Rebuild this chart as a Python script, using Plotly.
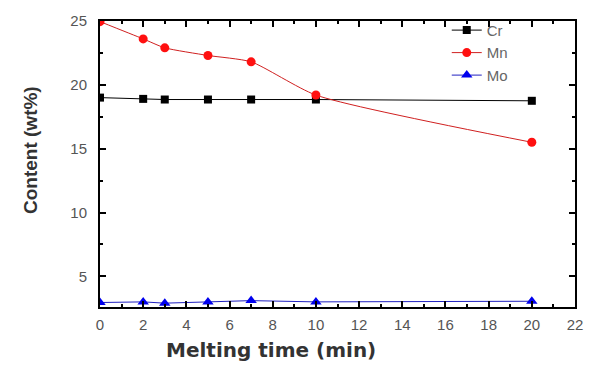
import plotly.graph_objects as go

time_min = [0, 2, 3, 5, 7, 10, 20]
cr = [19.0, 18.9, 18.85, 18.85, 18.85, 18.85, 18.75]
mn = [24.95, 23.6, 22.9, 22.3, 21.8, 19.2, 15.5]
mo = [2.95, 3.0, 2.9, 3.0, 3.1, 3.0, 3.05]

fig = go.Figure()
fig.add_trace(go.Scatter(x=time_min, y=cr, name="Cr", mode="lines+markers",
                         line=dict(color="black", width=1),
                         marker=dict(symbol="square", size=8, color="black")))
fig.add_trace(go.Scatter(x=time_min, y=mn, name="Mn", mode="lines+markers",
                         line=dict(color="#d02020", width=1, shape="spline", smoothing=0.6),
                         marker=dict(symbol="circle", size=9, color="#ff1010")))
fig.add_trace(go.Scatter(x=time_min, y=mo, name="Mo", mode="lines+markers",
                         line=dict(color="#2020c0", width=1),
                         marker=dict(symbol="triangle-up", size=10, color="#0000ee")))

axis_common = dict(showline=True, linecolor="black", linewidth=2, mirror="ticks",
                   ticks="inside", ticklen=6, tickwidth=1.5, tickcolor="black",
                   showgrid=False, zeroline=False,
                   tickfont=dict(family="Arial", size=15, color="#555555"))

fig.update_xaxes(range=[0, 22], dtick=2, tick0=0,
                 minor=dict(ticks="inside", dtick=1, ticklen=3, tickcolor="black"),
                 ticklabelstandoff=3,
                 **axis_common)
fig.update_yaxes(range=[2.6, 25], tickvals=[5, 10, 15, 20, 25],
                 minor=dict(ticks="inside", tickvals=[2.5, 7.5, 12.5, 17.5, 22.5], ticklen=3, tickcolor="black"),
                 ticklabelstandoff=8,
                 **axis_common)

fig.add_annotation(text="<b>Melting time (min)</b>", xref="paper", yref="paper",
                   x=0.36, y=0, yshift=-43, xanchor="center", yanchor="middle",
                   showarrow=False, font=dict(family="DejaVu Sans", size=20, color="#333333"))
fig.add_annotation(text="<b>Content (wt%)</b>", xref="paper", yref="paper",
                   x=0, xshift=-70, y=0.5, yshift=14, xanchor="center", yanchor="middle",
                   textangle=-90, showarrow=False,
                   font=dict(family="Arial", size=19, color="#333333"))

fig.update_layout(width=595, height=374, margin=dict(l=100, r=12, t=21, b=67),
                  plot_bgcolor="white", paper_bgcolor="white",
                  showlegend=True,
                  legend=dict(x=0.73, y=1.025, xanchor="left", yanchor="top",
                              bgcolor="rgba(0,0,0,0)", tracegroupgap=0,
                              font=dict(family="Arial", size=15, color="#666666")))

fig.write_html("out.html")
